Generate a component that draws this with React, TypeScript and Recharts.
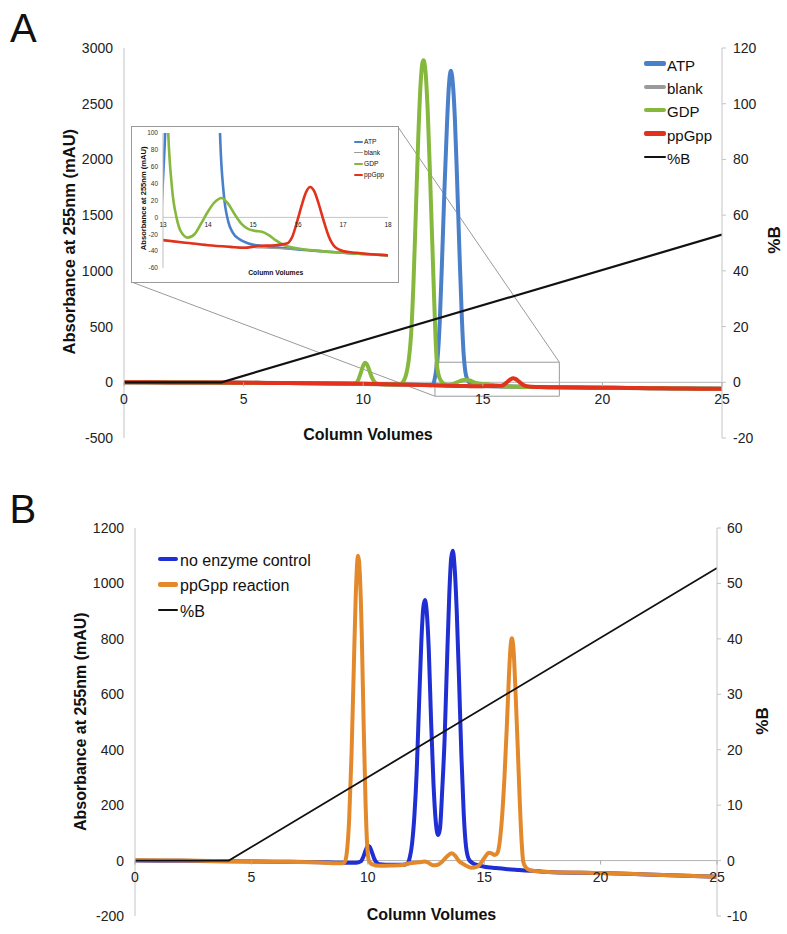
import React from 'react';
import { LineChart, Line, XAxis, YAxis, ReferenceLine, ReferenceArea, Legend } from 'recharts';

type Pt = [number, number];

// ---------- Panel A (column volumes, mAU) ----------
const ATP_A: Pt[] = [
  [0, 0], [3, -2], [6, -6], [9, -11], [11, -18], [12.5, -24], [12.85, -26], [12.93, -15], [13.0, 45],
  [13.1, 190], [13.2, 540], [13.3, 1120], [13.4, 1750], [13.5, 2300], [13.58, 2650], [13.66, 2795],
  [13.74, 2700], [13.83, 2380], [13.92, 1850], [14.02, 1200], [14.12, 600], [14.2, 250], [14.27, 95],
  [14.35, 28], [14.45, -5], [14.55, -18], [14.7, -26], [14.9, -31], [15.2, -34], [15.6, -36], [16, -38],
  [16.5, -40], [17, -42], [18, -45], [20, -49], [22, -53], [25, -59],
];
const BLANK_A: Pt[] = [
  [0, 0], [4, -3], [8, -9], [12, -21], [14, -33], [16, -38], [18, -45], [25, -59],
];
const GDP_A: Pt[] = [
  [0, 0], [3, -2], [6, -6], [9, -11], [9.55, -13], [9.7, -5], [9.8, 25], [9.9, 85], [10.0, 150],
  [10.08, 175], [10.16, 160], [10.25, 110], [10.35, 50], [10.45, 10], [10.58, -12], [10.8, -18],
  [11.2, -20], [11.5, -20], [11.6, -12], [11.7, 15], [11.8, 75], [11.9, 190], [12.0, 420], [12.1, 880],
  [12.2, 1520], [12.3, 2180], [12.4, 2680], [12.47, 2860], [12.52, 2890], [12.6, 2800], [12.7, 2420],
  [12.8, 1820], [12.88, 1300], [12.95, 850], [13.02, 420], [13.1, 125], [13.2, 35], [13.3, 0],
  [13.4, -17], [13.55, -24], [13.7, -20], [13.85, -7], [14.0, 7], [14.15, 18], [14.3, 23], [14.45, 16],
  [14.6, 3], [14.75, -8], [14.9, -14], [15.05, -16], [15.2, -17], [15.35, -21], [15.5, -27], [15.7, -33],
  [16, -37], [16.5, -40], [17, -42], [18, -45], [20, -49], [22, -53], [25, -59],
];
const PPGPP_A: Pt[] = [
  [0, 0], [2, -1], [4, -3], [6, -6], [8, -9], [10, -13], [11, -17], [12, -21], [13, -27], [13.5, -30],
  [14, -33], [14.5, -35], [14.8, -36], [15.1, -34], [15.5, -33], [15.75, -31], [15.88, -22], [15.98, -5],
  [16.08, 14], [16.18, 30], [16.27, 36], [16.36, 31], [16.46, 16], [16.57, -4], [16.68, -22], [16.82, -35],
  [17, -40], [17.3, -42], [17.7, -44], [18, -45], [19, -47], [20, -49], [21, -51], [22, -53], [23, -55],
  [24, -57], [25, -59],
];
const PCTB_A: Pt[] = [[0, 0], [4.08, 0], [25, 53]];

// ---------- Panel B ----------
const NO_ENZYME_B: Pt[] = [
  [0, 0], [2, -1], [4, -2], [6, -4], [8, -6], [9, -8], [9.5, -8], [9.7, -3], [9.8, 12], [9.9, 35],
  [10.0, 53], [10.08, 50], [10.17, 32], [10.27, 8], [10.38, -8], [10.5, -13], [11, -15], [11.5, -15],
  [11.7, -12], [11.8, 10], [11.9, 60], [12.0, 160], [12.1, 320], [12.2, 560], [12.3, 790], [12.38, 910],
  [12.45, 940], [12.53, 900], [12.62, 760], [12.72, 500], [12.82, 280], [12.92, 140], [13.02, 92],
  [13.1, 115], [13.2, 260], [13.3, 440], [13.4, 710], [13.5, 960], [13.58, 1090], [13.65, 1118],
  [13.72, 1070], [13.82, 900], [13.92, 650], [14.02, 380], [14.12, 170], [14.22, 50], [14.35, 3],
  [14.5, -9], [14.7, -16], [15, -22], [15.5, -27], [16, -31], [16.5, -34], [17, -37], [17.5, -40],
  [18, -42], [20, -45], [22, -50], [25, -58],
];
const PPGPP_RXN_B: Pt[] = [
  [0, 1], [2, 0], [4, -2], [6, -4], [8, -7], [8.9, -10], [9.0, -6], [9.1, 30], [9.2, 150], [9.3, 380],
  [9.4, 700], [9.48, 950], [9.58, 1100], [9.66, 1030], [9.74, 820], [9.82, 500], [9.9, 220], [9.97, 60],
  [10.05, -2], [10.2, -14], [10.5, -19], [11, -18], [11.5, -16], [11.8, -10], [12.1, -7], [12.3, -5],
  [12.45, -3], [12.6, -8], [12.8, -17], [13.0, -15], [13.2, -3], [13.4, 15], [13.6, 26], [13.75, 18],
  [13.9, 0], [14.15, -15], [14.45, -26], [14.7, -22], [14.9, -4], [15.05, 15], [15.2, 28], [15.32, 26],
  [15.45, 20], [15.57, 28], [15.67, 70], [15.77, 160], [15.87, 300], [15.97, 480], [16.06, 660],
  [16.13, 770], [16.19, 802], [16.26, 760], [16.35, 600], [16.44, 410], [16.52, 230], [16.6, 80],
  [16.68, -5], [16.8, -26], [17, -36], [17.5, -40], [18, -42], [19, -43], [20, -45], [22, -50], [25, -58],
];
const PCTB_B: Pt[] = [[0, 0], [4.03, 0], [25, 52.8]];

// ---------- ticks and legend order ----------
const X_TICKS = [0, 5, 10, 15, 20, 25];
const A_LEFT_TICKS = [-500, 0, 500, 1000, 1500, 2000, 2500, 3000];
const A_RIGHT_TICKS = [-20, 0, 20, 40, 60, 80, 100, 120];
const INSET_X_TICKS = [13, 14, 15, 16, 17, 18];
const INSET_Y_TICKS = [-60, -40, -20, 0, 20, 40, 60, 80, 100];
const B_LEFT_TICKS = [-200, 0, 200, 400, 600, 800, 1000, 1200];
const B_RIGHT_TICKS = [-10, 0, 10, 20, 30, 40, 50, 60];
const LEGEND_A = ['ATP', 'blank', 'GDP', 'ppGpp', '%B'];
const LEGEND_B = ['no enzyme control', 'ppGpp reaction', '%B'];

// zoom window shown by the inset, and the inset's corners (data units of panel A)
const ZOOM_BOX = { x1: 13, x2: 18.2, y1: -125, y2: 180 };
const INSET_CORNER_BL = { x: 0.33, y: 899 };
const INSET_CORNER_TR = { x: 11.45, y: 2293 };

const FONT = "'Liberation Sans', Arial, Helvetica, sans-serif";
const C = {
  atp: '#4A7FC9', blank: '#9A9A9A', gdp: '#86B83E', ppgpp: '#E2321C',
  b: '#111111', noEnz: '#1F2FD3', rxn: '#E3892B', axis: '#c4c4c4', tick: '#222',
};

const rows = (pts: Pt[]) => pts.map(([x, y]) => ({ x, y }));

function makeXTick(zeroOffset: number, labelDy: number, fontSize: number, mark: number) {
  return (props: any) => {
    const { x, y, payload } = props;
    const zy = y - zeroOffset;
    return (
      <g>
        {mark > 0 && <line x1={x} x2={x} y1={zy} y2={zy + mark} stroke="#aaa" strokeWidth={1} />}
        <text x={x} y={zy + labelDy} textAnchor="middle" fontSize={fontSize} fill={C.tick} fontFamily={FONT}>
          {payload.value}
        </text>
      </g>
    );
  };
}

function makeLegend(order: string[], o: { swatch: number; thick: (w: number) => number; rowH: number; fontSize: number; gap: number; lift: number }) {
  return (props: any) => {
    const items = [...(props.payload || [])]
      .filter((it: any) => order.includes(it.value))
      .sort((a: any, b: any) => order.indexOf(a.value) - order.indexOf(b.value));
    return (
      <div style={{ fontFamily: FONT }}>
        {items.map((it: any) => {
          const sw = it.payload?.strokeWidth ?? 3;
          return (
            <div key={it.value} style={{ display: 'flex', alignItems: 'center', height: o.rowH }}>
              <div style={{ width: o.swatch, height: o.thick(sw), background: it.color, borderRadius: 2, marginTop: -o.lift }} />
              <span style={{ marginLeft: o.gap, fontSize: o.fontSize, lineHeight: 1, color: '#111', whiteSpace: 'nowrap' }}>{it.value}</span>
            </div>
          );
        })}
      </div>
    );
  };
}

const A_W = 787, A_H = 470;
const A_PLOT_H = 390;
const B_PLOT_H = 388;
const INSET_PLOT_H = 135;

function PanelA() {
  return (
    <LineChart width={A_W} height={A_H} margin={{ top: 48, right: 20, bottom: 0, left: 64 }}>
      <XAxis type="number" dataKey="x" domain={[0, 25]} ticks={X_TICKS} allowDataOverflow
        height={32} axisLine={false} tickLine={false} tickSize={0} tickMargin={0}
        tick={makeXTick(A_PLOT_H * 500 / 3500, 21.5, 14, 4)} interval={0} />
      <YAxis yAxisId="left" orientation="left" width={60} domain={[-500, 3000]} ticks={A_LEFT_TICKS}
        allowDataOverflow axisLine={{ stroke: C.axis }} tickLine={false} tickSize={0} tickMargin={11}
        tick={{ fontSize: 14, fill: C.tick, fontFamily: FONT }} interval={0} />
      <YAxis yAxisId="right" orientation="right" width={45} domain={[-20, 120]} ticks={A_RIGHT_TICKS}
        allowDataOverflow axisLine={{ stroke: C.axis }} tickLine={{ stroke: C.axis }} tickSize={4} tickMargin={7}
        tick={{ fontSize: 14, fill: C.tick, fontFamily: FONT }} interval={0} />
      <ReferenceLine yAxisId="left" y={0} stroke="#b4b4b4" strokeWidth={1} />
      <ReferenceLine yAxisId="left" ifOverflow="visible" stroke="#9a9a9a" strokeWidth={1}
        segment={[INSET_CORNER_BL, { x: ZOOM_BOX.x1, y: ZOOM_BOX.y1 }]} />
      <ReferenceLine yAxisId="left" ifOverflow="visible" stroke="#9a9a9a" strokeWidth={1}
        segment={[INSET_CORNER_TR, { x: ZOOM_BOX.x2, y: ZOOM_BOX.y2 }]} />
      <Line data={rows(ATP_A)} dataKey="y" yAxisId="left" name="ATP" type="monotone" stroke={C.atp} strokeWidth={4} dot={false} isAnimationActive={false} />
      <Line data={rows(BLANK_A)} dataKey="y" yAxisId="left" name="blank" type="monotone" stroke={C.blank} strokeWidth={4} dot={false} isAnimationActive={false} />
      <Line data={rows(GDP_A)} dataKey="y" yAxisId="left" name="GDP" type="monotone" stroke={C.gdp} strokeWidth={4} dot={false} isAnimationActive={false} />
      <Line data={rows(PPGPP_A)} dataKey="y" yAxisId="left" name="ppGpp" type="monotone" stroke={C.ppgpp} strokeWidth={4} dot={false} isAnimationActive={false} />
      <Line data={rows(PCTB_A)} dataKey="y" yAxisId="right" name="%B" type="linear" stroke={C.b} strokeWidth={2.2} dot={false} isAnimationActive={false} />
      <ReferenceArea yAxisId="left" x1={ZOOM_BOX.x1} x2={ZOOM_BOX.x2} y1={ZOOM_BOX.y1} y2={ZOOM_BOX.y2}
        ifOverflow="visible" fill="none" fillOpacity={0} stroke="#9a9a9a" strokeWidth={1} />
      <Legend layout="vertical" align="center" verticalAlign="middle"
        wrapperStyle={{ left: 644, top: 53.5, width: 120, height: 'auto' }}
        content={makeLegend(LEGEND_A, { swatch: 22, thick: (w) => (w > 3 ? 4.5 : 2.5), rowH: 23.3, fontSize: 15, gap: 1, lift: 3 })} />
    </LineChart>
  );
}

function Inset() {
  return (
    <LineChart width={266} height={155} margin={{ top: 6, right: 10, bottom: 0, left: 11 }}>
      <XAxis type="number" dataKey="x" domain={[13, 18]} ticks={INSET_X_TICKS} allowDataOverflow
        height={14} axisLine={false} tickLine={false} tickSize={0} tickMargin={0}
        tick={makeXTick(INSET_PLOT_H * 60 / 160, 9.6, 6.5, 0)} interval={0} />
      <YAxis yAxisId="left" width={20} domain={[-60, 100]} ticks={INSET_Y_TICKS} allowDataOverflow
        axisLine={{ stroke: '#bdbdbd' }} tickLine={false} tickSize={0} tickMargin={5}
        tick={{ fontSize: 6.5, fill: '#333', fontFamily: FONT }} interval={0} />
      <ReferenceLine yAxisId="left" y={0} stroke="#c4c4c4" strokeWidth={1} />
      <Line data={rows(ATP_A)} dataKey="y" yAxisId="left" name="ATP" type="monotone" stroke={C.atp} strokeWidth={2.6} dot={false} isAnimationActive={false} />
      <Line data={rows(BLANK_A)} dataKey="y" yAxisId="left" name="blank" type="monotone" stroke={C.blank} strokeWidth={1.2} dot={false} isAnimationActive={false} />
      <Line data={rows(GDP_A)} dataKey="y" yAxisId="left" name="GDP" type="monotone" stroke={C.gdp} strokeWidth={2.6} dot={false} isAnimationActive={false} />
      <Line data={rows(PPGPP_A)} dataKey="y" yAxisId="left" name="ppGpp" type="monotone" stroke={C.ppgpp} strokeWidth={2.6} dot={false} isAnimationActive={false} />
      <Legend layout="vertical" align="center" verticalAlign="middle"
        wrapperStyle={{ left: 222, top: 9.8, width: 44, height: 'auto' }}
        content={makeLegend(LEGEND_A, { swatch: 9, thick: (w) => (w > 2 ? 2 : 1.2), rowH: 11, fontSize: 6.7, gap: 1, lift: 1 })} />
    </LineChart>
  );
}

function PanelB() {
  return (
    <LineChart width={787} height={464} margin={{ top: 58, right: 25, bottom: 0, left: 70 }}>
      <XAxis type="number" dataKey="x" domain={[0, 25]} ticks={X_TICKS} allowDataOverflow
        height={18} axisLine={false} tickLine={false} tickSize={0} tickMargin={0}
        tick={makeXTick(B_PLOT_H * 200 / 1400, 21, 14, 4)} interval={0} />
      <YAxis yAxisId="left" orientation="left" width={65} domain={[-200, 1200]} ticks={B_LEFT_TICKS}
        allowDataOverflow axisLine={{ stroke: C.axis }} tickLine={false} tickSize={0} tickMargin={11}
        tick={{ fontSize: 14, fill: C.tick, fontFamily: FONT }} interval={0} />
      <YAxis yAxisId="right" orientation="right" width={45} domain={[-10, 60]} ticks={B_RIGHT_TICKS}
        allowDataOverflow axisLine={{ stroke: C.axis }} tickLine={{ stroke: C.axis }} tickSize={4} tickMargin={6}
        tick={{ fontSize: 14, fill: C.tick, fontFamily: FONT }} interval={0} />
      <ReferenceLine yAxisId="left" y={0} stroke="#b4b4b4" strokeWidth={1} />
      <Line data={rows(NO_ENZYME_B)} dataKey="y" yAxisId="left" name="no enzyme control" type="monotone" stroke={C.noEnz} strokeWidth={4} dot={false} isAnimationActive={false} />
      <Line data={rows(PPGPP_RXN_B)} dataKey="y" yAxisId="left" name="ppGpp reaction" type="monotone" stroke={C.rxn} strokeWidth={4} dot={false} isAnimationActive={false} />
      <Line data={rows(PCTB_B)} dataKey="y" yAxisId="right" name="%B" type="linear" stroke={C.b} strokeWidth={1.8} dot={false} isAnimationActive={false} />
      <Legend layout="vertical" align="center" verticalAlign="middle"
        wrapperStyle={{ left: 158, top: 78, width: 200, height: 'auto' }}
        content={makeLegend(LEGEND_B, { swatch: 20, thick: (w) => (w > 3 ? 4.5 : 2.5), rowH: 25.5, fontSize: 16, gap: 2, lift: 4 })} />
    </LineChart>
  );
}

function RotTitle({ cx, cy, size, text }: { cx: number; cy: number; size: number; text: string }) {
  return (
    <text transform={`translate(${cx},${cy}) rotate(-90)`} x={0} y={size * 0.358} textAnchor="middle"
      fontSize={size} fontWeight="bold" fontFamily={FONT} fill="#111">{text}</text>
  );
}

export default function App() {
  return (
    <div style={{ position: 'absolute', left: 0, top: 0, width: 787, height: 934, background: '#fff', overflow: 'hidden' }}>
      <div style={{ position: 'absolute', left: 0, top: 0 }}>
        <PanelA />
      </div>
      <div style={{ position: 'absolute', left: 0, top: 470 }}>
        <PanelB />
      </div>
      <svg width={787} height={934} style={{ position: 'absolute', left: 0, top: 0, pointerEvents: 'none' }}>
        <text x={10} y={42} fontSize={40} fontFamily={FONT} fill="#111">A</text>
        <text x={9.5} y={523} fontSize={40} fontFamily={FONT} fill="#111">B</text>
        <RotTitle cx={69.5} cy={241.7} size={16.5} text="Absorbance at 255nm (mAU)" />
        <RotTitle cx={774} cy={240} size={17} text="%B" />
        <text x={368} y={439.8} textAnchor="middle" fontSize={16} fontWeight="bold" fontFamily={FONT} fill="#111">Column Volumes</text>
        <RotTitle cx={80} cy={721.7} size={16} text="Absorbance at 255nm (mAU)" />
        <RotTitle cx={762} cy={721} size={17} text="%B" />
        <text x={431.5} y={920.4} textAnchor="middle" fontSize={16} fontWeight="bold" fontFamily={FONT} fill="#111">Column Volumes</text>
      </svg>
      <div style={{ position: 'absolute', left: 131, top: 126, width: 266, height: 155, border: '1px solid #9a9a9a', background: '#fff' }}>
        <Inset />
        <svg width={266} height={155} style={{ position: 'absolute', left: 0, top: 0, pointerEvents: 'none' }}>
          <text x={143.7} y={148.1} textAnchor="middle" fontSize={6.8} fontWeight="bold" fontFamily={FONT} fill="#111">Column Volumes</text>
          <RotTitle cx={11.3} cy={71.3} size={7.6} text="Absorbance at 255nm (mAU)" />
        </svg>
      </div>
    </div>
  );
}
